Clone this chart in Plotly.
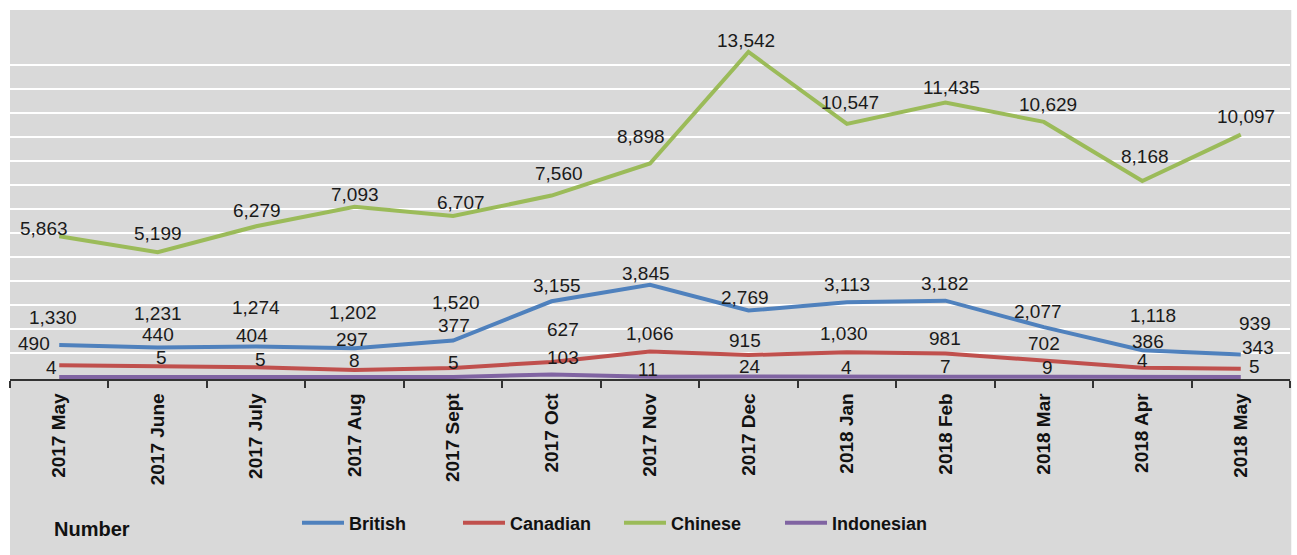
import plotly.graph_objects as go

months = ["2017 May", "2017 June", "2017 July", "2017 Aug", "2017 Sept", "2017 Oct",
          "2017 Nov", "2017 Dec", "2018 Jan", "2018 Feb", "2018 Mar", "2018 Apr", "2018 May"]
british = [1330, 1231, 1274, 1202, 1520, 3155, 3845, 2769, 3113, 3182, 2077, 1118, 939]
canadian = [490, 440, 404, 297, 377, 627, 1066, 915, 1030, 981, 702, 386, 343]
chinese = [5863, 5199, 6279, 7093, 6707, 7560, 8898, 13542, 10547, 11435, 10629, 8168, 10097]
indonesian = [4, 5, 5, 8, 5, 103, 11, 24, 4, 7, 9, 4, 5]

# label pixel offsets (style only)
lab_off = {
    "British": ([-6, 0, 0, -2, 3, 5, -4, -3, 0, 0, -6, 11, 14],
                [28, 34, 39, 36, 38, 16, 11, 13, 18, 17, 16, 35, 31]),
    "Canadian": ([-25, 0, -4, -3, 1, 11, 0, -3, -3, 0, 0, 6, 17],
                 [22, 32, 32, 30, 42, 32, 18, 15, 19, 15, 17, 26, 21]),
    "Chinese": ([-15, 0, 1, 0, 8, 7, -9, -2, 3, 6, 4, 3, 5],
                [8, 19, 16, 12, 14, 22, 27, 12, 21, 15, 17, 24, 18]),
    "Indonesian": ([-8, 4, 4, 0, 0, 11, -2, 2, 0, 0, 4, 0, 14],
                   [9, 19, 17, 16, 14, 17, 7, 10, 9, 10, 9, 16, 10]),
}

series = [("British", british, "#4F81BD"), ("Canadian", canadian, "#C0504D"),
          ("Chinese", chinese, "#9BBB59"), ("Indonesian", indonesian, "#8064A2")]

GRAY = "#d9d9d9"
FONT = "Liberation Sans, Arial, sans-serif"

fig = go.Figure()
annotations = []
for name, vals, color in series:
    fig.add_trace(go.Scatter(x=months, y=vals, name=name, mode="lines",
                             line=dict(color=color, width=4)))
    dxs, dys = lab_off[name]
    for m, v, dx, dy in zip(months, vals, dxs, dys):
        annotations.append(dict(x=m, y=v, xref="x", yref="y", text=f"{v:,}", showarrow=False,
                                xshift=dx, yshift=dy,
                                font=dict(family=FONT, size=19, color="#1a1a1a")))

annotations.append(dict(x=42 / 1280, y=(379 - 529) / 369, xref="paper", yref="paper",
                        text="<b>Number</b>", showarrow=False, xanchor="left", yanchor="middle",
                        font=dict(family=FONT, size=20, color="#111")))

fig.add_shape(type="rect", xref="paper", yref="paper", x0=0, x1=1.001,
              y0=-180 / 369, y1=1, layer="below", fillcolor=GRAY, line=dict(width=0))

fig.update_layout(
    width=1297, height=555, autosize=False,
    margin=dict(l=10, r=7, t=10, b=176),
    paper_bgcolor="white", plot_bgcolor=GRAY,
    annotations=annotations,
    showlegend=True,
    legend=dict(orientation="h", xref="container", yref="container",
                x=297 / 1297, y=1 - 523 / 555, xanchor="left", yanchor="middle",
                font=dict(family=FONT, size=18, color="#111", weight="bold"),
                bgcolor="rgba(0,0,0,0)", itemwidth=42, entrywidth=104),
    xaxis=dict(type="category", range=[-0.5, 12.5], showgrid=False,
               showline=True, linecolor="#333", linewidth=1.5,
               ticks="outside", tickson="boundaries", ticklen=7, tickcolor="#333", tickwidth=1.5,
               ticklabelstandoff=5,
               tickangle=-90, tickfont=dict(family=FONT, size=19, color="#111", weight="bold")),
    yaxis=dict(range=[-83, 15292], tickvals=list(range(1000, 14000, 1000)),
               showticklabels=False, showgrid=True, gridcolor="white", gridwidth=2,
               zeroline=False, showline=False, ticks=""),
)

fig.write_html("out.html", config={"displayModeBar": False},
               post_script="document.body.style.margin='0';")
